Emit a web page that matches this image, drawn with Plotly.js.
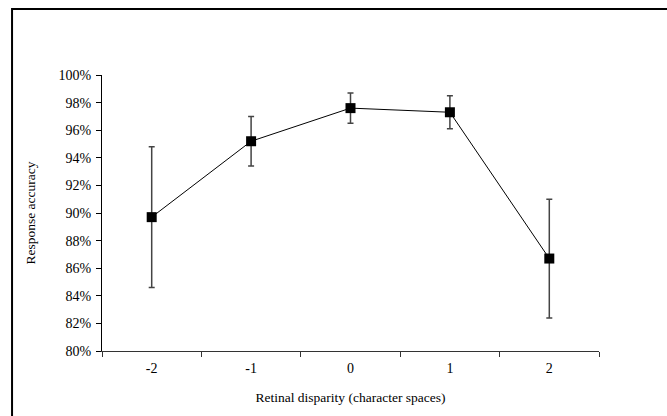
<!DOCTYPE html>
<html>
<head>
<meta charset="utf-8">
<script src="https://cdn.plot.ly/plotly-3.0.1.min.js"></script>
<style>
html,body{margin:0;padding:0;background:#fff;}
#chart{width:667px;height:416px;}
</style>
</head>
<body>
<div id="chart"></div>
<script>
const categories = ["-2", "-1", "0", "1", "2"];
const accuracy = [89.7, 95.2, 97.6, 97.3, 86.7];
const errorSD = [5.1, 1.8, 1.1, 1.2, 4.3];
const yTickVals = [80, 82, 84, 86, 88, 90, 92, 94, 96, 98, 100];
const yTickText = ["80%", "82%", "84%", "86%", "88%", "90%", "92%", "94%", "96%", "98%", "100%"];

const tickFont = {family: "Liberation Serif, Times New Roman, serif", size: 14, color: "#000"};
const titleFont = {family: "Liberation Serif, Times New Roman, serif", size: 13.5, color: "#000"};

const trace = {
  type: "scatter",
  mode: "lines+markers",
  x: categories,
  y: accuracy,
  line: {color: "#000", width: 1},
  marker: {symbol: "square", size: 10, color: "#000"},
  error_y: {type: "data", array: errorSD, visible: true, color: "#444", thickness: 1.5, width: 3},
  hoverinfo: "skip"
};

const layout = {
  width: 667,
  height: 416,
  margin: {l: 102, r: 68, t: 75, b: 65},
  paper_bgcolor: "#fff",
  plot_bgcolor: "#fff",
  showlegend: false,
  font: tickFont,
  xaxis: {
    type: "category",
    range: [-0.5, 4.5],
    showgrid: false,
    zeroline: false,
    showline: true,
    linecolor: "#333",
    linewidth: 1,
    ticks: "outside",
    tickson: "boundaries",
    ticklen: 5,
    tickcolor: "#333",
    tickfont: tickFont,
    ticklabelstandoff: 4,
    title: {text: "Retinal disparity (character spaces)", font: titleFont, standoff: 17}
  },
  yaxis: {
    range: [80, 100],
    tickvals: yTickVals,
    ticktext: yTickText,
    showgrid: false,
    zeroline: false,
    showline: true,
    linecolor: "#000",
    linewidth: 1,
    ticks: "outside",
    ticklen: 5,
    tickcolor: "#000",
    tickfont: tickFont,
    ticklabelstandoff: 2,
    title: {text: "Response accuracy", font: titleFont, standoff: 19}
  },
  shapes: [{
    type: "rect",
    xref: "paper", yref: "paper",
    x0: -0.181, x1: 1.25,
    y0: -0.35, y1: 1.239,
    line: {color: "#000", width: 2},
    fillcolor: "rgba(0,0,0,0)"
  }]
};

Plotly.newPlot("chart", [trace], layout, {displayModeBar: false, staticPlot: true});
</script>
</body>
</html>
